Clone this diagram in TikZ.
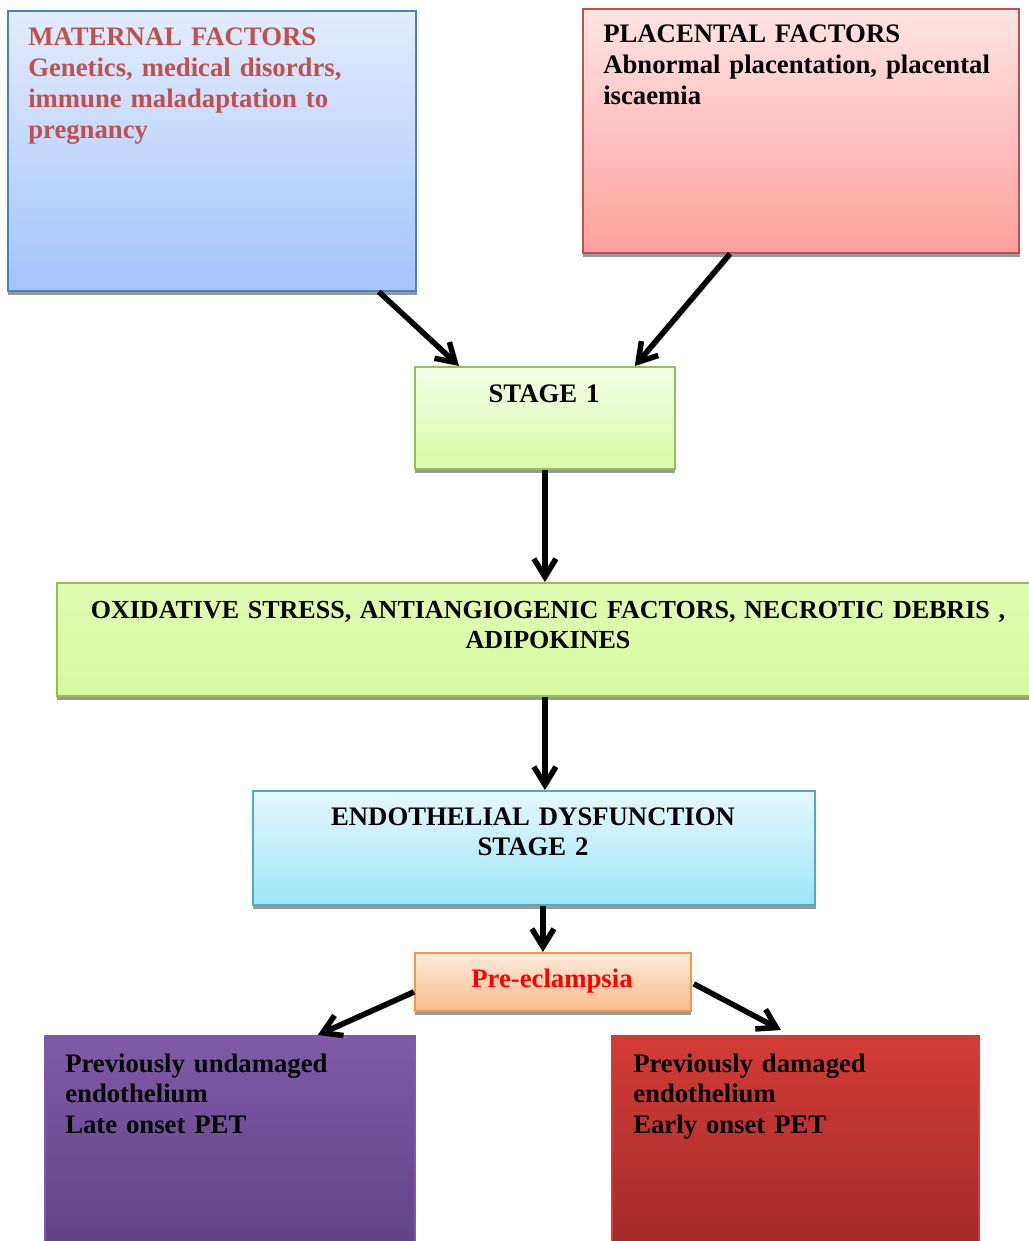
\documentclass[tikz,border=0pt]{standalone}
\usepackage{fontspec}
\setmainfont{Liberation Serif}
\usetikzlibrary{arrows.meta, positioning, calc, shadows}

\definecolor{matTop}{RGB}{226,236,253}
\definecolor{matBot}{RGB}{164,196,252}
\definecolor{matLine}{RGB}{79,129,189}
\definecolor{matText}{RGB}{192,80,77}
\definecolor{plaTop}{RGB}{255,228,228}
\definecolor{plaBot}{RGB}{255,160,157}
\definecolor{plaLine}{RGB}{192,80,77}
\definecolor{stTop}{RGB}{243,253,233}
\definecolor{stBot}{RGB}{218,251,166}
\definecolor{stLine}{RGB}{155,187,89}
\definecolor{oxTop}{RGB}{224,252,178}
\definecolor{oxBot}{RGB}{216,250,160}
\definecolor{enTop}{RGB}{229,248,254}
\definecolor{enBot}{RGB}{158,229,250}
\definecolor{enLine}{RGB}{75,172,198}
\definecolor{peTop}{RGB}{253,235,220}
\definecolor{peBot}{RGB}{250,188,138}
\definecolor{peLine}{RGB}{247,150,70}
\definecolor{puTop}{RGB}{128,90,168}
\definecolor{puBot}{RGB}{95,67,132}
\definecolor{rdTop}{RGB}{211,60,55}
\definecolor{rdBot}{RGB}{160,42,40}

\begin{document}
\begin{tikzpicture}[
    x=0.025cm, y=-0.025cm, % 像素坐标,y向下
    every node/.style={font=\bfseries\fontsize{19}{22}\selectfont}, % 统一字体
    box/.style={rectangle, anchor=north west, inner sep=0pt, line width=1.2pt,
        drop shadow={shadow xshift=0.4pt, shadow yshift=-2.6pt, fill=black!40, opacity=1}}, % 方框(渐变+阴影)
    txt/.style={inner sep=0pt, anchor=base west, text width=10cm, align=left}, % 左对齐文字
    ctxt/.style={inner sep=0pt, anchor=base, text width=25cm, align=center}, % 居中文字
    arr/.style={line width=3.9pt, -{Straight Barb[length=4.5mm, width=5.5mm]},
        preaction={draw=black!35, transform canvas={xshift=1.4pt, yshift=-1.6pt}}} % 粗箭头(带阴影)
]
    \useasboundingbox (0,0) rectangle (1029,1241);
    \clip (0,0) rectangle (1029,1241);

    % 1. 方框
    \node[box, draw=matLine, top color=matTop, bottom color=matBot,
        minimum width=10.2cm, minimum height=7cm] (mat) at (7,10) {};
    \node[box, draw=plaLine, top color=plaTop, bottom color=plaBot,
        minimum width=10.9cm, minimum height=6.1cm] (pla) at (582,8) {};
    \node[box, draw=stLine, top color=stTop, bottom color=stBot,
        minimum width=6.5cm, minimum height=2.55cm] (st1) at (414,366) {};
    \node[box, draw=stLine, top color=oxTop, bottom color=oxBot,
        minimum width=24.6cm, minimum height=2.825cm] (oxi) at (56,582) {};
    \node[box, draw=enLine, top color=enTop, bottom color=enBot,
        minimum width=14.05cm, minimum height=2.85cm] (endo) at (252,790) {};
    \node[box, draw=peLine, top color=peTop, bottom color=peBot,
        minimum width=6.9cm, minimum height=1.45cm] (pre) at (414,952) {};
    \node[box, draw=puTop, top color=puTop, bottom color=puBot,
        minimum width=9.25cm, minimum height=5.4cm] (pur) at (44,1035) {};
    \node[box, draw=rdTop, top color=rdTop, bottom color=rdBot,
        minimum width=9.175cm, minimum height=5.4cm] (red) at (611,1035) {};

    % 2. 文字
    \node[txt, text=matText] (matT) at (28,46)
        {MATERNAL FACTORS\\Genetics, medical disordrs,\\immune maladaptation to\\pregnancy};
    \node[txt] (plaT) at (603,43)
        {PLACENTAL FACTORS\\Abnormal placentation, placental\\iscaemia};
    \node[ctxt] (st1T) at (544,402) {STAGE 1};
    \node[ctxt, font=\bfseries\fontsize{18.5}{22}\selectfont] (oxiT) at (548,618)
        {OXIDATIVE STRESS, ANTIANGIOGENIC FACTORS, NECROTIC DEBRIS ,\\ADIPOKINES};
    \node[ctxt] (endoT) at (533,825) {ENDOTHELIAL DYSFUNCTION\\STAGE 2};
    \node[ctxt, text=red] (preT) at (552,987) {Pre-eclampsia};
    \node[txt] (purT) at (65,1072) {Previously undamaged\\endothelium\\Late onset PET};
    \node[txt] (redT) at (633,1072) {Previously damaged\\endothelium\\Early onset PET};

    % 3. 箭头
    \coordinate (pin) at ($(pre.north)+(-10,0)$);
    \draw[arr] ($(mat.south east)+(-38,0)$) -- ($(st1.north west)+(45,0)$);
    \draw[arr] ($(pla.south west)+(148,0)$) -- ($(st1.north east)+(-41,0)$);
    \draw[arr] (st1.south) -- (st1.south |- oxi.north);
    \draw[arr] (st1.south |- oxi.south) -- (st1.south |- endo.north);
    \draw[arr] (pin |- endo.south) -- (pin);
    \draw[arr] ($(pre.west)+(0,10)$) -- ($(pur.north east)+(-98,0)$);
    \draw[arr] ($(pre.east)+(2,2)$) -- ($(red.north west)+(170,-5)$);

\end{tikzpicture}
\end{document}
